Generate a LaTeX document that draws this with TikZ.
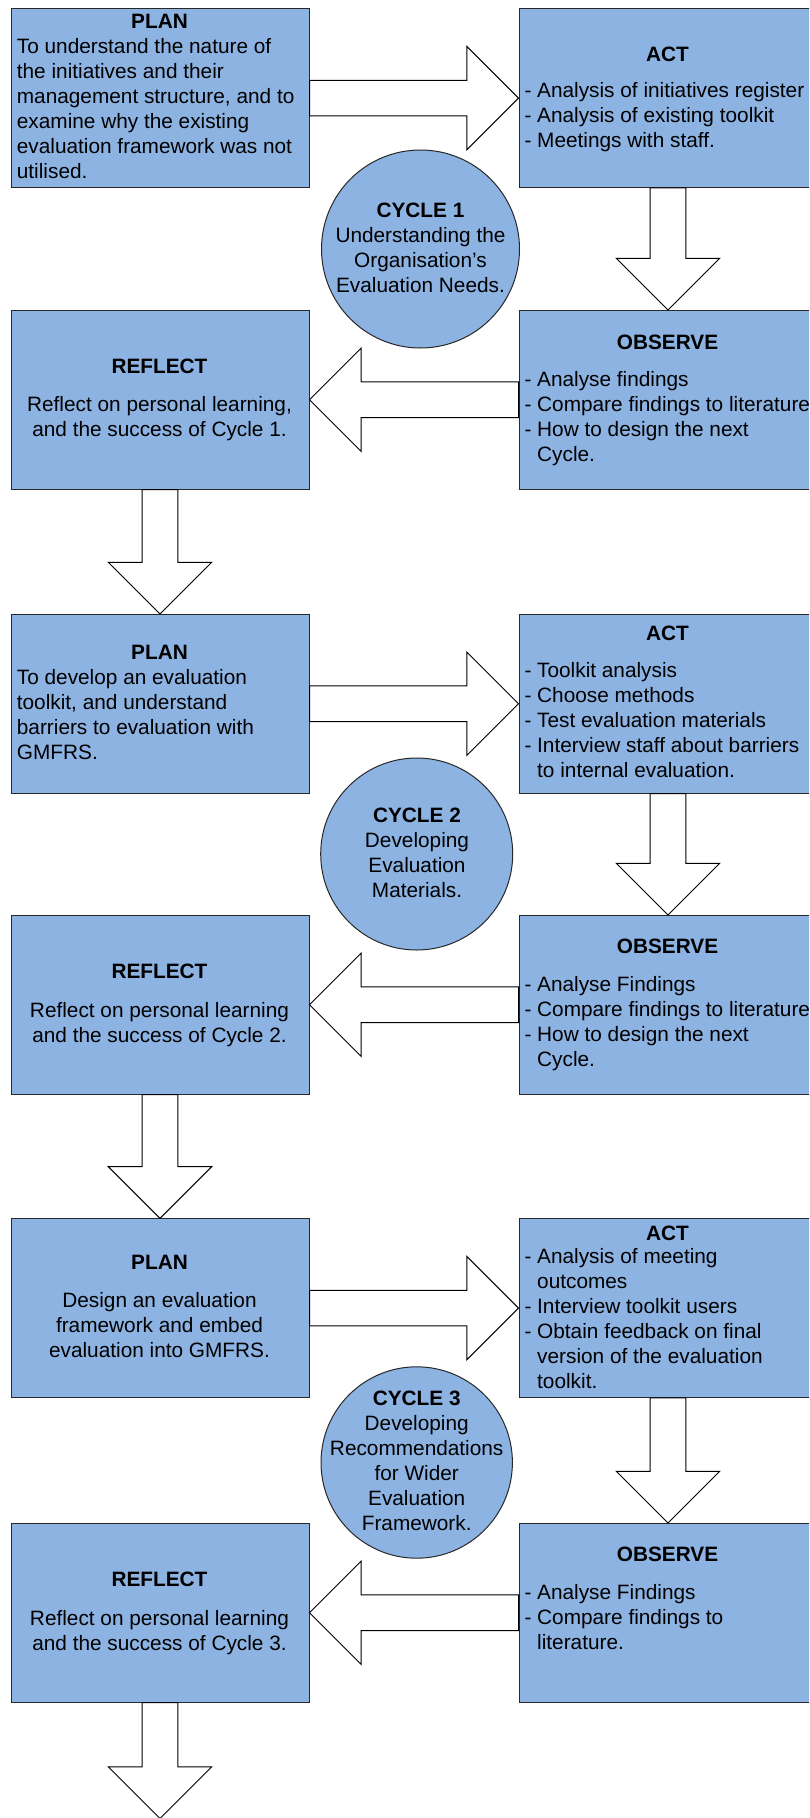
\documentclass[tikz,border=0pt]{standalone}
\usepackage{fontspec}
\setmainfont{Liberation Sans}
\usetikzlibrary{calc}
\definecolor{boxblue}{RGB}{141,179,226}
\definecolor{boxline}{RGB}{40,40,40}

% hollow block arrow from #1 (base, on a box edge) to #2 (tip)
\newcommand\blockarrow[2]{%
  \coordinate (ba-s) at (#1);
  \coordinate (ba-t) at (#2);
  \coordinate (ba-h) at ($(ba-t)!51.7pt!(ba-s)$);
  \draw[blockarr] ($(ba-s)!17.8pt!90:(ba-t)$) -- ($(ba-h)!17.8pt!90:(ba-t)$)
    -- ($(ba-h)!51.7pt!90:(ba-t)$) -- (ba-t) -- ($(ba-h)!51.7pt!-90:(ba-t)$)
    -- ($(ba-h)!17.8pt!-90:(ba-t)$) -- ($(ba-s)!17.8pt!-90:(ba-t)$) -- cycle;}

\begin{document}
\begin{tikzpicture}[x=1pt,y=-1pt,
  stagebox/.style={draw=boxline, line width=1pt, fill=boxblue,
    minimum width=298pt, minimum height=178.5pt, inner sep=0pt, anchor=north west},
  cyclenode/.style={circle, draw=boxline, line width=1pt, fill=boxblue, inner sep=0pt},
  txt/.style={inner sep=0pt, font=\fontsize{20.8}{25}\selectfont},
  head/.style={inner sep=0pt, font=\fontsize{20.8}{25}\selectfont\bfseries, anchor=base},
  % multi-line texts are placed by the baseline of their last line
  listtxt/.style={txt, align=left, anchor=base west},
  centretxt/.style={txt, align=center, anchor=base},
  blockarr/.style={draw=black, line width=1pt, fill=white, line join=miter}]

\useasboundingbox (0,0) rectangle (809,1818);
\clip (0,0) rectangle (809,1818);

% stage boxes
\node[stagebox] (plan1)    at (10.5,8.3)    {};
\node[stagebox] (act1)     at (518.5,8.3)   {};
\node[stagebox] (reflect1) at (10.5,310)    {};
\node[stagebox] (observe1) at (518.5,310)   {};
\node[stagebox] (plan2)    at (10.5,614)    {};
\node[stagebox] (act2)     at (518.5,614)   {};
\node[stagebox] (reflect2) at (10.5,915)    {};
\node[stagebox] (observe2) at (518.5,915)   {};
\node[stagebox] (plan3)    at (10.5,1218.3) {};
\node[stagebox] (act3)     at (518.5,1218.3){};
\node[stagebox] (reflect3) at (10.5,1523)   {};
\node[stagebox] (observe3) at (518.5,1523)  {};

% cycle circles
\node[cyclenode, minimum size=198pt]   (cycle1) at (420.5,249)    {};
\node[cyclenode, minimum size=192pt]   (cycle2) at (416.7,854)    {};
\node[cyclenode, minimum size=191.4pt] (cycle3) at (416.7,1462.5) {};

% block arrows
\blockarrow{plan1.east}{act1.west}
\blockarrow{act1.south}{observe1.north}
\blockarrow{observe1.west}{reflect1.east}
\blockarrow{reflect1.south}{plan2.north}
\blockarrow{plan2.east}{act2.west}
\blockarrow{act2.south}{observe2.north}
\blockarrow{observe2.west}{reflect2.east}
\blockarrow{reflect2.south}{plan3.north}
\blockarrow{plan3.east}{act3.west}
\blockarrow{act3.south}{observe3.north}
\blockarrow{observe3.west}{reflect3.east}
\coordinate (next) at ($(reflect3.south)+(0,116)$);
\blockarrow{reflect3.south}{next}

% cycle 1
\node[head] (plan1-h) at (159.5,28.7) {PLAN};
\node[listtxt] (plan1-t) at (16.7,178.5) {To understand the nature of\\the initiatives and their\\management structure, and to\\examine why the existing\\evaluation framework was not\\utilised.};
\node[head] (act1-h) at (667.5,61) {ACT};
\node[listtxt] (act1-t) at (524.3,147.7) {- Analysis of initiatives register\\- Analysis of existing toolkit\\- Meetings with staff.};
\node[centretxt] (cycle1-t) at (420.5,292.3) {\textbf{CYCLE 1}\\Understanding the\\Organisation’s\\Evaluation Needs.};
\node[head] (reflect1-h) at (159.5,373.3) {REFLECT};
\node[centretxt] (reflect1-t) at (159.5,436) {Reflect on personal learning,\\and the success of Cycle 1.};
\node[head] (observe1-h) at (667.5,349.3) {OBSERVE};
\node[listtxt] (observe1-t) at (524.3,461.7) {- Analyse findings\\- Compare findings to literature\\- How to design the next\\\hphantom{- }Cycle.};

% cycle 2
\node[head] (plan2-h) at (159.5,659.3) {PLAN};
\node[listtxt] (plan2-t) at (16.7,759) {To develop an evaluation\\toolkit, and understand\\barriers to evaluation with\\GMFRS.};
\node[head] (act2-h) at (667.5,640.7) {ACT};
\node[listtxt] (act2-t) at (524.3,777.7) {- Toolkit analysis\\- Choose methods\\- Test evaluation materials\\- Interview staff about barriers\\\hphantom{- }to internal evaluation.};
\node[centretxt] (cycle2-t) at (417,897.7) {\textbf{CYCLE 2}\\Developing\\Evaluation\\Materials.};
\node[head] (reflect2-h) at (159.5,978.7) {REFLECT};
\node[centretxt] (reflect2-t) at (159.5,1042) {Reflect on personal learning\\and the success of Cycle 2.};
\node[head] (observe2-h) at (667.5,953.3) {OBSERVE};
\node[listtxt] (observe2-t) at (524.3,1066.7) {- Analyse Findings\\- Compare findings to literature\\- How to design the next\\\hphantom{- }Cycle.};

% cycle 3
\node[head] (plan3-h) at (159.5,1269.3) {PLAN};
\node[centretxt] (plan3-t) at (159.5,1357.3) {Design an evaluation\\framework and embed\\evaluation into GMFRS.};
\node[head] (act3-h) at (667.5,1240) {ACT};
\node[listtxt] (act3-t) at (524.3,1388.3) {- Analysis of meeting\\\hphantom{- }outcomes\\- Interview toolkit users\\- Obtain feedback on final\\\hphantom{- }version of the evaluation\\\hphantom{- }toolkit.};
\node[centretxt] (cycle3-t) at (416.7,1530) {\textbf{CYCLE 3}\\Developing\\Recommendations\\for Wider\\Evaluation\\Framework.};
\node[head] (reflect3-h) at (159.5,1586.7) {REFLECT};
\node[centretxt] (reflect3-t) at (159.5,1650) {Reflect on personal learning\\and the success of Cycle 3.};
\node[head] (observe3-h) at (667.5,1561.7) {OBSERVE};
\node[listtxt] (observe3-t) at (524.3,1649.3) {- Analyse Findings\\- Compare findings to\\\hphantom{- }literature.};
\end{tikzpicture}
\end{document}
